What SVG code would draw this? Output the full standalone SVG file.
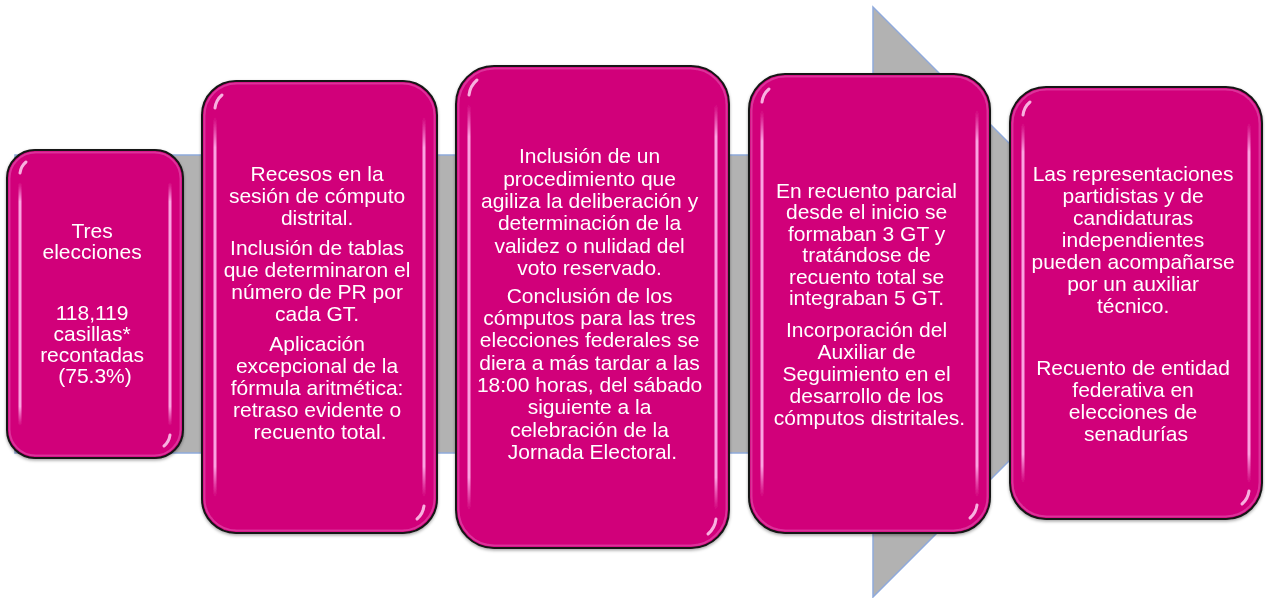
<svg xmlns="http://www.w3.org/2000/svg" width="1265" height="598" viewBox="0 0 1265 598">
  <style>
    .box { fill: #D1007A; stroke: #141414; stroke-width: 2; }
    .bevel { fill: none; stroke: #E65AB4; stroke-width: 2; opacity: 0.55; }
    .hl { fill: url(#hlGrad); }
    .arc { fill: none; stroke: #FFD0F2; stroke-width: 3; stroke-linecap: round; opacity: 0.85; }
    .t { font-family: "Liberation Sans", Arial, sans-serif; font-size: 21px; fill: #FFFFFF; text-anchor: middle; }
    .arrow { fill: #B2B2B2; stroke: #8FAADC; stroke-width: 1.5; stroke-linejoin: miter; }
  </style>
  <defs>
    <linearGradient id="hlGrad" x1="0" y1="0" x2="0" y2="1">
      <stop offset="0" stop-color="#FF9FE4" stop-opacity="0"/>
      <stop offset="0.08" stop-color="#FFB6EC" stop-opacity="0.9"/>
      <stop offset="0.92" stop-color="#FFB6EC" stop-opacity="0.9"/>
      <stop offset="1" stop-color="#FF9FE4" stop-opacity="0"/>
    </linearGradient>
    <filter id="shadow" x="-10%" y="-10%" width="120%" height="120%">
      <feDropShadow dx="0" dy="1.5" stdDeviation="1.5" flood-color="#000000" flood-opacity="0.35"/>
    </filter>
  </defs>

  <g id="connectors">
    <polygon class="arrow" points="15,155 873,155 873,7 1168,302 873,597 873,453 15,453"/>
  </g>

  <g id="node1" filter="url(#shadow)">
    <rect class="box" x="7" y="150" width="176" height="308" rx="28" ry="28"/>
    <rect class="bevel" x="9.5" y="152.5" width="171" height="303" rx="26" ry="26"/>
    <rect class="hl" x="18.5" y="182" width="3" height="244" rx="1.5"/>
    <rect class="hl" x="168.5" y="182" width="3" height="244" rx="1.5"/>
    <path class="arc" d="M20,173 Q21,166 26,162"/>
    <path class="arc" d="M170,435 Q169,442 164,446"/>
    <text class="t">
      <tspan x="95" y="238">Tres</tspan>
      <tspan x="95" y="259">elecciones</tspan>
      <tspan x="95" y="320">118,119</tspan>
      <tspan x="95" y="341">casillas*</tspan>
      <tspan x="95" y="362">recontadas</tspan>
      <tspan x="95" y="383">(75.3%)</tspan>
    </text>
  </g>

  <g id="node2" filter="url(#shadow)">
    <rect class="box" x="202" y="81" width="235" height="452" rx="34" ry="34"/>
    <rect class="bevel" x="204.5" y="83.5" width="230" height="447" rx="32" ry="32"/>
    <rect class="hl" x="213.5" y="117" width="3" height="380" rx="1.5"/>
    <rect class="hl" x="422.5" y="117" width="3" height="380" rx="1.5"/>
    <path class="arc" d="M215,108 Q216,100 222,95"/>
    <path class="arc" d="M424,506 Q423,514 417,519"/>
    <text class="t">
      <tspan x="320" y="181">Recesos en la</tspan>
      <tspan x="320" y="203">sesión de cómputo</tspan>
      <tspan x="320" y="225">distrital.</tspan>
      <tspan x="320" y="255">Inclusión de tablas</tspan>
      <tspan x="320" y="277">que determinaron el</tspan>
      <tspan x="320" y="299">número de PR por</tspan>
      <tspan x="320" y="321">cada GT.</tspan>
      <tspan x="320" y="351">Aplicación</tspan>
      <tspan x="320" y="373">excepcional de la</tspan>
      <tspan x="320" y="395">fórmula aritmética:</tspan>
      <tspan x="320" y="417">retraso evidente o</tspan>
      <tspan x="320" y="439">recuento total.</tspan>
    </text>
  </g>

  <g id="node3" filter="url(#shadow)">
    <rect class="box" x="456" y="66" width="273" height="482" rx="38" ry="38"/>
    <rect class="bevel" x="458.5" y="68.5" width="268" height="477" rx="36" ry="36"/>
    <rect class="hl" x="467.5" y="104" width="3" height="406" rx="1.5"/>
    <rect class="hl" x="714.5" y="104" width="3" height="406" rx="1.5"/>
    <path class="arc" d="M469,95 Q470,86 477,80"/>
    <path class="arc" d="M716,519 Q715,528 708,534"/>
    <text class="t">
      <tspan x="592.5" y="163">Inclusión de un</tspan>
      <tspan x="592.5" y="185.5">procedimiento que</tspan>
      <tspan x="592.5" y="208">agiliza la deliberación y</tspan>
      <tspan x="592.5" y="230">determinación de la</tspan>
      <tspan x="592.5" y="252.5">validez o nulidad del</tspan>
      <tspan x="592.5" y="275">voto reservado.</tspan>
      <tspan x="592.5" y="302.5">Conclusión de los</tspan>
      <tspan x="592.5" y="325">cómputos para las tres</tspan>
      <tspan x="592.5" y="347">elecciones federales se</tspan>
      <tspan x="592.5" y="369.5">diera a más tardar a las</tspan>
      <tspan x="592.5" y="392">18:00 horas, del sábado</tspan>
      <tspan x="592.5" y="414">siguiente a la</tspan>
      <tspan x="592.5" y="436.5">celebración de la</tspan>
      <tspan x="592.5" y="458.5">Jornada Electoral.</tspan>
    </text>
  </g>

  <g id="node4" filter="url(#shadow)">
    <rect class="box" x="749" y="74" width="241" height="459" rx="36" ry="36"/>
    <rect class="bevel" x="751.5" y="76.5" width="236" height="454" rx="34" ry="34"/>
    <rect class="hl" x="760.5" y="110" width="3" height="387" rx="1.5"/>
    <rect class="hl" x="975.5" y="110" width="3" height="387" rx="1.5"/>
    <path class="arc" d="M762,102 Q763,94 769,89"/>
    <path class="arc" d="M977,505 Q976,513 970,518"/>
    <text class="t">
      <tspan x="869.5" y="197.5">En recuento parcial</tspan>
      <tspan x="869.5" y="219">desde el inicio se</tspan>
      <tspan x="869.5" y="240.5">formaban 3 GT y</tspan>
      <tspan x="869.5" y="262">tratándose de</tspan>
      <tspan x="869.5" y="283.5">recuento total se</tspan>
      <tspan x="869.5" y="305">integraban 5 GT.</tspan>
      <tspan x="869.5" y="337">Incorporación del</tspan>
      <tspan x="869.5" y="359">Auxiliar de</tspan>
      <tspan x="869.5" y="381">Seguimiento en el</tspan>
      <tspan x="869.5" y="403">desarrollo de los</tspan>
      <tspan x="869.5" y="425">cómputos distritales.</tspan>
    </text>
  </g>

  <g id="node5" filter="url(#shadow)">
    <rect class="box" x="1010" y="87" width="252" height="432" rx="36" ry="36"/>
    <rect class="bevel" x="1012.5" y="89.5" width="247" height="427" rx="34" ry="34"/>
    <rect class="hl" x="1021.5" y="123" width="3" height="360" rx="1.5"/>
    <rect class="hl" x="1247.5" y="123" width="3" height="360" rx="1.5"/>
    <path class="arc" d="M1023,115 Q1024,107 1030,102"/>
    <path class="arc" d="M1249,491 Q1248,499 1242,504"/>
    <text class="t">
      <tspan x="1136" y="181">Las representaciones</tspan>
      <tspan x="1136" y="203">partidistas y de</tspan>
      <tspan x="1136" y="225">candidaturas</tspan>
      <tspan x="1136" y="247">independientes</tspan>
      <tspan x="1136" y="269">pueden acompañarse</tspan>
      <tspan x="1136" y="291">por un auxiliar</tspan>
      <tspan x="1136" y="313">técnico.</tspan>
      <tspan x="1136" y="375">Recuento de entidad</tspan>
      <tspan x="1136" y="397">federativa en</tspan>
      <tspan x="1136" y="419">elecciones de</tspan>
      <tspan x="1136" y="441">senadurías</tspan>
    </text>
  </g>
</svg>
